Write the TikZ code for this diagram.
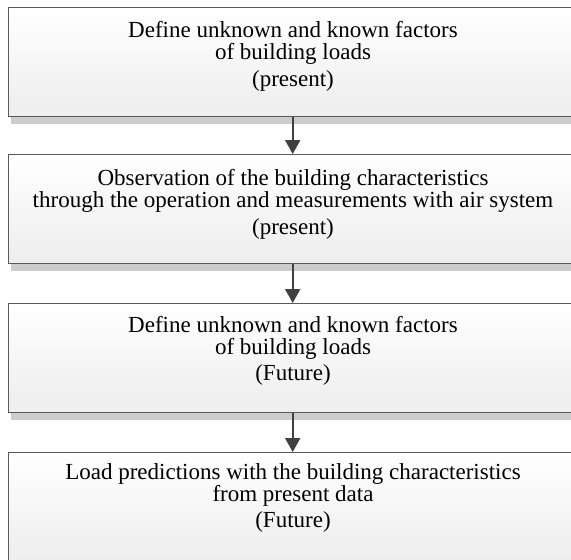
\documentclass[tikz,border=0pt]{standalone}
\usepackage{fontspec}
\setmainfont{Liberation Serif}
\usetikzlibrary{arrows.meta,shadows}
\definecolor{bordercol}{HTML}{5A5A5A}
\definecolor{shadowcol}{HTML}{CCCCCC}
\definecolor{arrowcol}{HTML}{404040}
\begin{document}
\begin{tikzpicture}[x=1pt,y=-1pt,
  stepbox/.style={draw=bordercol, line width=1.4pt, top color=white, bottom color=black!7,
    minimum width=568pt, minimum height=109pt, inner sep=0pt, anchor=north west,
    drop shadow={shadow xshift=2pt, shadow yshift=-7pt, fill=shadowcol, opacity=1}},
  txt/.style={anchor=base, inner sep=0pt, font=\fontsize{23}{26}\selectfont},
  flow/.style={draw=arrowcol, line width=2pt, -{Triangle[width=15pt,length=14pt]}}]
\clip (0,0) rectangle (571,560);
\fill[white] (0,0) rectangle (571,560);
\node[stepbox] (b1) at (8,7) {};
\node[stepbox] (b2) at (8,154) {};
\node[stepbox] (b3) at (8,303) {};
\node[stepbox] (b4) at (8,452) {};
\node[txt] (t11) at (293,37) {Define unknown and known factors};
\node[txt] (t12) at (293,59) {of building loads};
\node[txt] (t13) at (293,86) {(present)};
\node[txt] (t21) at (293,185) {Observation of the building characteristics};
\node[txt] (t22) at (293,207) {through the operation and measurements with air system};
\node[txt] (t23) at (293,234) {(present)};
\node[txt] (t31) at (293,332) {Define unknown and known factors};
\node[txt] (t32) at (293,354) {of building loads};
\node[txt] (t33) at (293,380) {(Future)};
\node[txt] (t41) at (293,479) {Load predictions with the building characteristics};
\node[txt] (t42) at (293,501) {from present data};
\node[txt] (t43) at (293,527) {(Future)};
\draw[flow] (b1.south) -- (b2.north);
\draw[flow] (b2.south) -- (b3.north);
\draw[flow] (b3.south) -- (b4.north);
\end{tikzpicture}
\end{document}
